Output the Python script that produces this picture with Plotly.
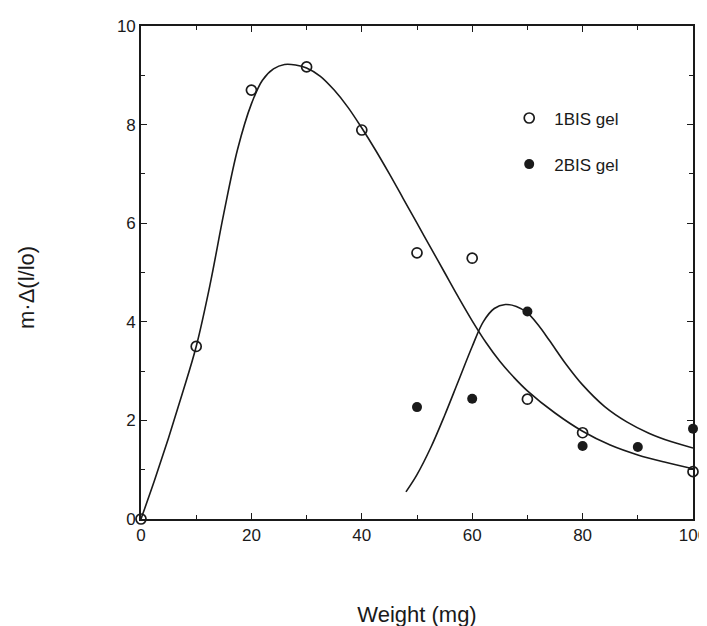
import plotly.graph_objects as go

# Measured data points
bis1_x = [0, 10, 20, 30, 40, 50, 60, 70, 80, 100]
bis1_y = [0.0, 3.5, 8.7, 9.17, 7.89, 5.4, 5.29, 2.43, 1.75, 0.96]

bis2_x = [50, 60, 70, 80, 90, 100]
bis2_y = [2.27, 2.44, 4.21, 1.48, 1.46, 1.83]

# Fitted curves
fit1_x = [0, 2.5, 5, 7.5, 10, 12.5, 15, 17.5, 20, 22, 24, 26, 28, 30, 32.5, 35, 37.5, 40,
          42.5, 45, 47.5, 50, 52.5, 55, 57.5, 60, 62.5, 65, 67.5, 70, 75, 80, 85, 90, 95, 100]
fit1_y = [0.0, 0.8, 1.65, 2.55, 3.5, 4.75, 6.2, 7.5, 8.42, 8.9, 9.13, 9.22, 9.21, 9.15,
          8.98, 8.7, 8.35, 7.93, 7.48, 7.0, 6.5, 6.0, 5.5, 5.0, 4.5, 4.02, 3.58, 3.2, 2.88,
          2.6, 2.15, 1.78, 1.5, 1.3, 1.15, 1.02]

fit2_x = [48, 50, 52.5, 55, 57.5, 60, 62, 64, 66, 68, 70, 72, 74, 77, 80, 84, 88, 92, 96, 100]
fit2_y = [0.55, 0.9, 1.45, 2.1, 2.8, 3.5, 4.0, 4.27, 4.35, 4.31, 4.18, 3.93, 3.62, 3.14,
          2.72, 2.28, 1.97, 1.74, 1.57, 1.44]

x_ticks = [0, 20, 40, 60, 80, 100]
y_ticks = [0, 2, 4, 6, 8, 10]

FONT = "Liberation Sans, Arial, sans-serif"
INK = "#1a1a1a"

fig = go.Figure()

for fx, fy in ((fit1_x, fit1_y), (fit2_x, fit2_y)):
    fig.add_trace(go.Scatter(x=fx, y=fy, mode="lines",
                             line=dict(color=INK, width=1.6, shape="spline", smoothing=1.0),
                             showlegend=False, hoverinfo="skip"))

fig.add_trace(go.Scatter(x=bis1_x, y=bis1_y, mode="markers", name="1BIS gel",
                         legendgroup="a",
                         marker=dict(symbol="circle-open", size=10, color=INK,
                                     line=dict(width=1.7, color=INK)),
                         cliponaxis=False))
fig.add_trace(go.Scatter(x=bis2_x, y=bis2_y, mode="markers", name="2BIS gel",
                         legendgroup="b",
                         marker=dict(symbol="circle", size=10, color=INK),
                         cliponaxis=False))

axis_common = dict(
    showgrid=False, zeroline=False, showline=True, linecolor=INK, linewidth=1.6,
    mirror="allticks", ticks="inside", ticklen=6, tickwidth=1.3, tickcolor=INK,
    tickfont=dict(family=FONT, size=17, color=INK), automargin=False,
)

fig.update_layout(
    width=707, height=626,
    margin=dict(l=133, r=22, t=18, b=115),
    paper_bgcolor="white", plot_bgcolor="white",
    font=dict(family=FONT, color=INK, size=16),
    xaxis=dict(range=[0, 100], tickvals=x_ticks, ticktext=[str(v) for v in x_ticks],
               minor=dict(ticks="inside", dtick=10, ticklen=4, tickcolor=INK, tickwidth=1.2),
               title=dict(text="Weight (mg)", font=dict(family=FONT, size=22, color=INK), standoff=62),
               **axis_common),
    yaxis=dict(range=[0, 10], tickvals=y_ticks, ticktext=[str(v) for v in y_ticks],
               minor=dict(ticks="inside", dtick=1, ticklen=4, tickcolor=INK, tickwidth=1.2),
               **axis_common),
    annotations=[dict(text="m·Δ(l/lo)", xref="paper", yref="paper", x=-0.2065, y=0.4686,
                      xanchor="center", yanchor="middle", textangle=-90, showarrow=False,
                      font=dict(family=FONT, size=22, color=INK))],
    legend=dict(x=0.658, y=0.849, xanchor="left", yanchor="top",
                bgcolor="rgba(0,0,0,0)", borderwidth=0, itemwidth=40,
                font=dict(family=FONT, size=17, color=INK),
                traceorder="grouped", tracegroupgap=21),
    showlegend=True,
)

fig.write_html("out.html")
